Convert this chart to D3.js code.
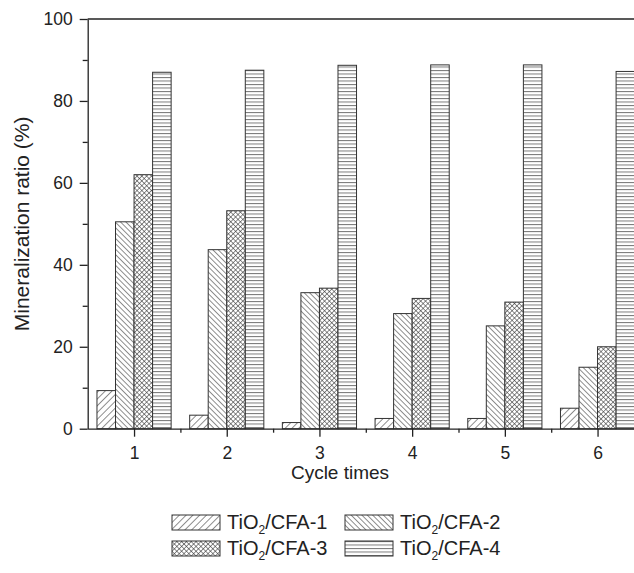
<!DOCTYPE html>
<meta charset="utf-8">
<script src="https://d3js.org/d3.v7.min.js"></script>
<style>
  body { margin: 0; background: #fff; }
  text { font-family: "Liberation Sans", Arial, sans-serif; fill: #222; }
</style>
<div id="chart"></div>
<script>
// data
var cycles = [1, 2, 3, 4, 5, 6];
var cfa1 = [9.3, 3.3, 1.5, 2.5, 2.5, 5.0];
var cfa2 = [50.5, 43.7, 33.2, 28.1, 25.1, 15.0];
var cfa3 = [62.0, 53.2, 34.3, 31.8, 30.9, 20.0];
var cfa4 = [87.0, 87.5, 88.7, 88.8, 88.8, 87.2];
var seriesNames = ["1", "2", "3", "4"];
var yTicks = [0, 20, 40, 60, 80, 100];

var series = [cfa1, cfa2, cfa3, cfa4];

var W = 634, H = 573;
var plotL = 87.7, plotT = 19, plotB = 428.7;
var plotR = 643.9; // frame runs past the picture edge

var svg = d3.select("#chart").append("svg")
    .attr("width", W)
    .attr("height", H);

// fill patterns
var defs = svg.append("defs");
function linePattern(id, size, angle, color, sw) {
  var p = defs.append("pattern")
      .attr("id", id)
      .attr("patternUnits", "userSpaceOnUse")
      .attr("width", size).attr("height", size)
      .attr("patternTransform", "rotate(" + angle + ")");
  p.append("rect").attr("width", size).attr("height", size).attr("fill", "#fff");
  p.append("line").attr("x1", 0).attr("y1", 0).attr("x2", 0).attr("y2", size)
      .attr("stroke", color).attr("stroke-width", sw);
  return p;
}
linePattern("p1", 4.8, 45, "#333", 1.1);
linePattern("p2", 3.8, -45, "#333", 1.1);
var p3 = linePattern("p3", 3.4, 45, "#333", 1.1);
p3.append("line").attr("x1", 0).attr("y1", 0).attr("x2", 3.4).attr("y2", 0)
    .attr("stroke", "#333").attr("stroke-width", 1.1);
var p4 = defs.append("pattern")
    .attr("id", "p4")
    .attr("patternUnits", "userSpaceOnUse")
    .attr("width", 6).attr("height", 3.5);
p4.append("rect").attr("width", 6).attr("height", 3.5).attr("fill", "#fff");
p4.append("line").attr("x1", 0).attr("y1", 0.5).attr("x2", 6).attr("y2", 0.5)
    .attr("stroke", "#777").attr("stroke-width", 1);

var fills = ["url(#p1)", "url(#p2)", "url(#p3)", "url(#p4)"];

var x = d3.scaleLinear().domain([0.5, 6.5]).range([plotL, plotR]);
var y = d3.scaleLinear().domain([0, 100]).range([plotB, plotT]);
var step = x(2) - x(1);
var bw = step * 0.2;

// bars
series.forEach(function(vals, si) {
  svg.append("g").selectAll("rect")
    .data(vals)
    .enter().append("rect")
      .attr("x", function(d, i) { return x(cycles[i]) + (si - 2) * bw; })
      .attr("y", function(d) { return y(d); })
      .attr("width", bw)
      .attr("height", function(d) { return y(0) - y(d); })
      .attr("fill", fills[si])
      .attr("stroke", "#333")
      .attr("stroke-width", 1);
});

// frame top line
svg.append("line")
    .attr("x1", plotL).attr("x2", plotR).attr("y1", plotT).attr("y2", plotT)
    .attr("stroke", "#222").attr("stroke-width", 1.3);

// y axis
svg.append("g")
    .attr("transform", "translate(" + plotL + ",0)")
    .call(d3.axisLeft(y).tickValues(yTicks).tickSize(8).tickPadding(7).tickSizeOuter(0));
svg.append("g")
    .attr("transform", "translate(" + plotL + ",0)")
    .call(d3.axisLeft(y).tickValues([10, 30, 50, 70, 90]).tickSize(5).tickFormat("").tickSizeOuter(0))
    .select(".domain").remove();

// x axis
svg.append("g")
    .attr("transform", "translate(0," + plotB + ")")
    .call(d3.axisBottom(x).tickValues(cycles).tickFormat(d3.format("d")).tickSize(8).tickPadding(10).tickSizeOuter(0));
svg.append("g")
    .attr("transform", "translate(0," + plotB + ")")
    .call(d3.axisBottom(x).tickValues([1.5, 2.5, 3.5, 4.5, 5.5]).tickSize(4).tickFormat("").tickSizeOuter(0))
    .select(".domain").remove();

svg.selectAll(".domain").attr("stroke", "#222").attr("stroke-width", 1.3);
svg.selectAll(".tick line").attr("stroke", "#222").attr("stroke-width", 1.3);
svg.selectAll(".tick text")
    .style("font-family", "'Liberation Sans', Arial, sans-serif")
    .style("font-size", "17.5px")
    .attr("fill", "#222");

// axis titles
svg.append("text")
    .attr("x", 340).attr("y", 479)
    .attr("text-anchor", "middle")
    .style("font-size", "19px")
    .text("Cycle times");

svg.append("text")
    .attr("transform", "translate(29," + ((plotT + plotB) / 2) + ") rotate(-90)")
    .attr("text-anchor", "middle")
    .style("font-size", "21px")
    .text("Mineralization ratio (%)");

// legend
var legendPos = [[172, 515], [345, 515], [172, 541], [345, 541]];
seriesNames.forEach(function(n, i) {
  var g = svg.append("g")
      .attr("transform", "translate(" + legendPos[i][0] + "," + legendPos[i][1] + ")");
  g.append("rect")
      .attr("width", 48).attr("height", 15)
      .attr("fill", fills[i])
      .attr("stroke", "#333").attr("stroke-width", 1);
  var t = g.append("text")
      .attr("x", 55).attr("y", 14)
      .style("font-size", "20px");
  t.append("tspan").text("TiO");
  t.append("tspan").attr("dy", 5).style("font-size", "12px").text("2");
  t.append("tspan").attr("dy", -5).text("/CFA-" + n);
});
</script>
